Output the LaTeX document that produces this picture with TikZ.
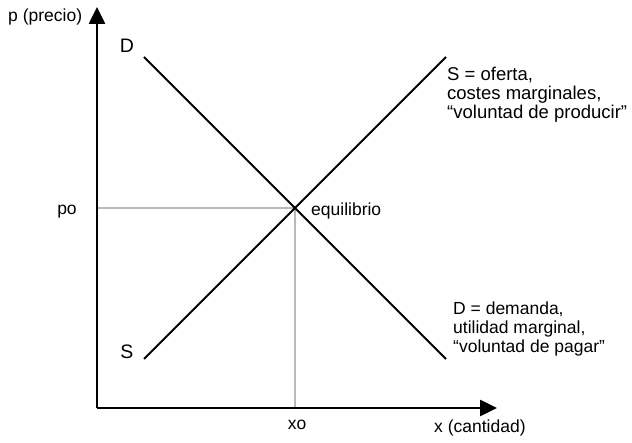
\documentclass[tikz,border=0pt]{standalone}
\usepackage{fontspec}
\setmainfont{Liberation Sans}
\usetikzlibrary{arrows.meta}
\begin{document}
\begin{tikzpicture}[x=1pt,y=-1pt,
  axis/.style={line width=2.6pt,-{Triangle[length=17pt,width=16pt]}},
  curve/.style={line width=2pt},
  guide/.style={line width=1.5pt,draw={rgb,255:red,185;green,185;blue,185}},
  lbl/.style={inner sep=0pt,font=\fontsize{17.5}{19}\selectfont},
  big/.style={inner sep=0pt,font=\fontsize{19.5}{22}\selectfont},
  note/.style={inner sep=0pt,align=left,anchor=north west,font=\fontsize{17.5}{19}\selectfont},
  widenote/.style={note,font=\fontsize{18.5}{19}\selectfont}]
\useasboundingbox (0,0) rectangle (632,443);
\coordinate (O) at (97,408);
\coordinate (ytip) at (97,7);
\coordinate (xtip) at (497,408);
\coordinate (d1) at (144,57);
\coordinate (d2) at (446,359);
\coordinate (s1) at (144,359);
\coordinate (s2) at (446,57);
\coordinate (E) at (295,208);
\coordinate (po) at (97,208);
\coordinate (xo) at (295,408);
\draw[guide] (po) -- (E) -- (xo);
\draw[curve] (d1) -- (d2);
\draw[curve] (s1) -- (s2);
\draw[axis] (O) -- (ytip);
\draw[axis] (O) -- (xtip);
\node[lbl,anchor=base west] (plab) at (8,22) {p (precio)};
\node[big] (Dlab) at (127,46) {D};
\node[big] (Slab) at (127,352) {S};
\node[lbl,anchor=base] (polab) at (67,214.5) {po};
\node[lbl,anchor=base west] (eqlab) at (311,215.5) {equilibrio};
\node[lbl,anchor=base] (xolab) at (297,430) {xo};
\node[lbl,anchor=base west] (xlab) at (434,432) {x (cantidad)};
\node[widenote] (Snote) at (447,67) {S = oferta,\\costes marginales,\\“voluntad de producir”};
\node[note] (Dnote) at (453,302) {D = demanda,\\utilidad marginal,\\“voluntad de pagar”};
\end{tikzpicture}
\end{document}
